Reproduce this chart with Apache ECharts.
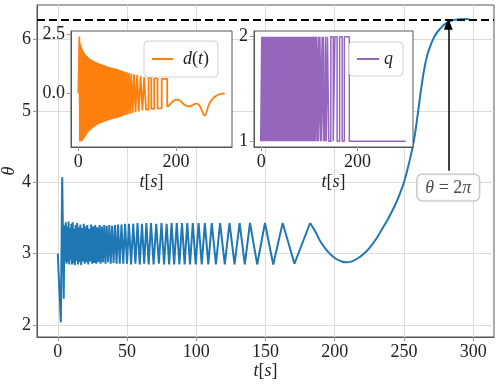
<!DOCTYPE html>
<html>
<head>
<meta charset="utf-8">
<script src="https://cdn.jsdelivr.net/npm/echarts@6/dist/echarts.min.js"></script>
<style>
  html, body { margin: 0; padding: 0; background: #fff; }
  #chart { width: 498px; height: 386px; }
</style>
</head>
<body>
<div id="chart"></div>
<script>
// θ(t) extremum times (also the switching times of d(t) and q in the dense part)
const tExt = [
  0, 2.2, 3.2, 4.3, 4.8, 5.3, 5.8, 6.3, 6.8, 7.3,
  7.8, 8.3, 8.8, 9.3, 9.8, 10.3, 10.8, 11.3, 11.8, 12.35,
  12.9, 13.45, 14.0, 14.55, 15.1, 15.7, 16.3, 16.9, 17.5, 18.1,
  18.75, 19.4, 20.05, 20.7, 21.35, 22.0, 22.7, 23.4, 24.1, 24.8,
  25.55, 26.3, 27.05, 27.8, 28.6, 29.4, 30.2, 31.0, 31.85, 32.7,
  33.55, 34.45, 35.35, 36.3, 37.25, 38.25, 39.25, 40.3, 41.35, 42.45,
  43.55, 44.75, 46.0, 47.3, 48.6, 50.0, 51.4, 52.95, 54.5, 56.05,
  57.6, 59.2, 60.8, 62.4, 64.0, 65.65, 67.3, 69.2, 71.1, 73.0,
  74.9, 76.75, 78.6, 80.4, 82.2, 84.05, 85.9, 87.8, 89.7, 91.6,
  93.5, 95.5, 97.5, 99.6, 101.7, 103.95, 106.2, 108.7, 111.2, 114.2,
  117.2, 120.6, 124.0, 127.65, 131.3, 135.05, 138.8, 144.0, 149.6, 155.6,
  162.4, 170.9, 182.2
];
// θ at those times
const thetaExt = [
  3.00, 2.04, 4.07, 2.37, 3.40, 2.90, 3.44, 2.86, 3.38, 2.88,
  3.45, 2.85, 3.36, 2.91, 3.42, 2.85, 3.44, 2.87, 3.35, 2.84,
  3.40, 2.90, 3.43, 2.85, 3.37, 2.88, 3.41, 2.84, 3.36, 2.89,
  3.42, 2.86, 3.38, 2.88, 3.40, 2.85, 3.35, 2.89, 3.41, 2.86,
  3.38, 2.87, 3.40, 2.86, 3.37, 2.88, 3.40, 2.86, 3.38, 2.88,
  3.40, 2.86, 3.39, 2.88, 3.40, 2.86, 3.39, 2.87, 3.40, 2.86,
  3.41, 2.86, 3.41, 2.86, 3.42, 2.86, 3.42, 2.85, 3.42, 2.86,
  3.43, 2.85, 3.42, 2.86, 3.43, 2.85, 3.43, 2.85, 3.42, 2.86,
  3.43, 2.85, 3.42, 2.85, 3.43, 2.85, 3.43, 2.85, 3.43, 2.85,
  3.43, 2.85, 3.43, 2.85, 3.43, 2.85, 3.43, 2.85, 3.43, 2.85,
  3.43, 2.85, 3.43, 2.85, 3.43, 2.85, 3.43, 2.85, 3.43, 2.85,
  3.43, 2.86, 3.43
];
// slow part of θ after the last oscillation
const thetaTail = [
  [182.2, 3.43], [186, 3.31], [190, 3.16], [195, 3.03], [200, 2.94], [204, 2.90],
  [208, 2.88], [212, 2.89], [217, 2.94], [221, 3.00], [225, 3.08], [230, 3.21],
  [234, 3.34], [238, 3.47], [241.3, 3.59], [244.5, 3.72], [247.4, 3.86], [250, 4.00],
  [252.5, 4.18], [255, 4.38], [257.5, 4.62], [260, 4.96], [262, 5.25], [264.5, 5.57],
  [267, 5.79], [269.5, 5.93], [272, 6.04], [275.3, 6.13], [280, 6.22], [285, 6.265],
  [290, 6.28], [297, 6.283]
];
// d(t) level held from tExt[i] until tExt[i+1]
const dLevel = [
  0, 2.41, -2.03, 2.10, -2.03, 1.98, -2.02, 1.93, -2.01, 1.89,
  -1.99, 1.84, -1.96, 1.79, -1.93, 1.75, -1.90, 1.72, -1.87, 1.69,
  -1.83, 1.66, -1.79, 1.63, -1.75, 1.61, -1.72, 1.58, -1.68, 1.56,
  -1.65, 1.53, -1.62, 1.51, -1.59, 1.49, -1.56, 1.47, -1.53, 1.45,
  -1.51, 1.43, -1.48, 1.41, -1.46, 1.39, -1.43, 1.37, -1.41, 1.35,
  -1.38, 1.34, -1.36, 1.32, -1.34, 1.30, -1.31, 1.29, -1.29, 1.27,
  -1.27, 1.25, -1.25, 1.23, -1.23, 1.21, -1.21, 1.19, -1.18, 1.17,
  -1.16, 1.15, -1.14, 1.13, -1.12, 1.11, -1.10, 1.09, -1.08, 1.07,
  -1.06, 1.05, -1.04, 1.03, -1.01, 1.00, -0.99, 0.98, -0.96, 0.95,
  -0.93, 0.92, -0.91, 0.90, -0.88, 0.87, -0.85, 0.84, -0.82, 0.81,
  -0.79, 0.78, -0.76, 0.74, -0.72, 0.70, -0.68, 0.67, -0.65, 0.64,
  -0.63, 0.62, -0.57
];
const dTail = [
  [182.2, -0.57], [186, -0.50], [190, -0.41], [196, -0.30], [203, -0.26], [210, -0.33],
  [218, -0.48], [226, -0.55], [233, -0.50], [238, -0.45], [243, -0.43], [248, -0.50],
  [253, -0.70], [256.5, -0.88], [259.5, -0.93], [262.5, -0.80], [266, -0.56], [271, -0.34],
  [276, -0.21], [282, -0.11], [288, -0.04], [295, -0.01], [300, 0]
];
// q level held from tExt[i] (dense part, up to t = 131.3), then the wide pulses
const qEarly = [
  1, 2, 1, 2, 1, 2, 1, 2, 1, 2,  1, 2, 1, 2, 1, 2, 1, 2, 1, 2,
  1, 2, 1, 2, 1, 2, 1, 2, 1, 2,  1, 2, 1, 2, 1, 2, 1, 2, 1, 2,
  1, 2, 1, 2, 1, 2, 1, 2, 1, 2,  1, 2, 1, 2, 1, 2, 1, 2, 1, 2,
  1, 2, 1, 2, 1, 2, 1, 2, 1, 2,  1, 2, 1, 2, 1, 2, 1, 2, 1, 2,
  1, 2, 1, 2, 1, 2, 1, 2, 1, 2,  1, 2, 1, 2, 1, 2, 1, 2, 1, 2,
  1, 2, 1, 2
];
const qLateT = [131.3, 133.5, 135.2, 137.5, 140.3, 144.5, 149.5, 153, 157.5, 162.7, 168, 172.5, 182.8, 300];
const qLateV = [1, 2, 1, 2, 1, 2, 1, 2, 1, 2, 1, 2, 1, 1];

const xTicks = [0, 50, 100, 150, 200, 250, 300];
const yTicks = [2, 3, 4, 5, 6];
const insetXTicks = [0, 200];
const dTicks = [0, 2.5];
const qTicks = [1, 2];
const target = 2 * Math.PI;
const arrowT = 282;

const thetaZig = tExt.map((t, i) => [t, thetaExt[i]]);
const dStep = tExt.map((t, i) => [t, dLevel[i]]);
const qDense = tExt.slice(0, qEarly.length).map((t, i) => [t, qEarly[i]]).concat([[qLateT[0], qLateV[0]]]);
const qLate = qLateT.map((t, i) => [t, qLateV[i]]);

const FONT = 'Liberation Serif';
const INK = '#222';
const txt = { fontFamily: FONT, fontSize: 18, color: INK };
const rich = { i: { fontFamily: FONT, fontStyle: 'italic', fontSize: 18, color: INK } };
const FRAME = '#555';

function xAxisCfg(grid, ticks, z, nameGap) {
  return {
    type: 'value', gridIndex: grid, min: -15, max: 315, z: z,
    axisLine: { show: true, onZero: false, lineStyle: { color: FRAME, width: 1 } },
    axisTick: { show: true, customValues: ticks, length: 4, lineStyle: { color: '#999' } },
    axisLabel: { customValues: ticks, margin: 6, ...txt },
    splitLine: { show: grid === 0, lineStyle: { color: '#dcdcdc', width: 1 } },
    name: '{i|t}[{i|s}]', nameLocation: 'middle', nameGap: nameGap, nameMoveOverlap: false,
    nameTextStyle: { ...txt, rich: rich }
  };
}
function yAxisCfg(grid, min, max, ticks, z, fmt) {
  return {
    type: 'value', gridIndex: grid, min: min, max: max, z: z,
    axisLine: { show: true, onZero: false, lineStyle: { color: FRAME, width: 1 } },
    axisTick: { show: true, customValues: ticks, length: 4, lineStyle: { color: '#999' } },
    axisLabel: { customValues: ticks, margin: 6, ...txt, formatter: fmt },
    splitLine: { show: grid === 0, lineStyle: { color: '#dcdcdc', width: 1 } }
  };
}

const chart = echarts.init(document.getElementById('chart'), null, { renderer: 'canvas' });

const BLUE = '#1f77b4', ORANGE = '#ff7f0e', PURPLE = '#9467bd';

const option = {
  animation: false,
  backgroundColor: '#fff',
  grid: [
    { left: 37, top: 5, right: 4, bottom: 49, show: true, borderColor: FRAME, borderWidth: 1,
      backgroundColor: 'transparent', outerBoundsMode: 'none' },
    { left: 71, top: 31, width: 161, height: 116, show: true, z: 10, borderColor: FRAME, borderWidth: 1,
      backgroundColor: '#fff', outerBoundsMode: 'none' },
    { left: 254, top: 31, width: 159, height: 116, show: true, z: 10, borderColor: FRAME, borderWidth: 1,
      backgroundColor: '#fff', outerBoundsMode: 'none' }
  ],
  xAxis: [
    xAxisCfg(0, xTicks, 0, 25),
    xAxisCfg(1, insetXTicks, 15, 26),
    xAxisCfg(2, insetXTicks, 15, 26)
  ],
  yAxis: [
    Object.assign(yAxisCfg(0, 1.835, 6.48, yTicks, 0, v => String(v)), {
      name: '{i|θ}', nameLocation: 'middle', nameGap: 19, nameRotate: 90, nameMoveOverlap: false,
      nameTextStyle: { ...txt, rich: rich }
    }),
    yAxisCfg(1, -2.26, 2.64, dTicks, 15, v => v.toFixed(1)),
    yAxisCfg(2, 0.945, 2.055, qTicks, 15, v => String(v))
  ],
  legend: [
    { data: ['d(t)'], left: 144, top: 41, z: 30, selectedMode: false, icon: 'rect',
      padding: [9, 9, 9, 8], itemWidth: 21, itemHeight: 2,
      backgroundColor: 'rgba(255,255,255,0.85)', borderColor: '#d0d0d0', borderWidth: 1, borderRadius: 4,
      textStyle: { ...txt, rich: rich, padding: [0, 0, 0, 5] }, formatter: () => '{i|d}({i|t})' },
    { data: ['q'], left: 349, top: 42, z: 30, selectedMode: false, icon: 'rect',
      padding: [8, 10, 8, 8], itemWidth: 22, itemHeight: 2,
      backgroundColor: 'rgba(255,255,255,0.85)', borderColor: '#d0d0d0', borderWidth: 1, borderRadius: 4,
      textStyle: { ...txt, rich: rich }, formatter: () => '{i|q}' }
  ],
  series: [
    { name: 'theta', type: 'line', xAxisIndex: 0, yAxisIndex: 0, data: thetaZig,
      symbol: 'none', lineStyle: { color: BLUE, width: 2 }, z: 2 },
    { name: 'theta', type: 'line', xAxisIndex: 0, yAxisIndex: 0, data: thetaTail, smooth: 0.4,
      symbol: 'none', lineStyle: { color: BLUE, width: 2 }, z: 2 },
    // 2π reference line and arrow
    { name: 'ref', type: 'line', xAxisIndex: 0, yAxisIndex: 0, data: [], z: 3,
      markLine: { silent: true, animation: false, symbol: 'none', label: { show: false },
        lineStyle: { color: '#000', width: 2, type: [8, 4] },
        data: [{ yAxis: target }] } },
    { name: 'arrow', type: 'line', xAxisIndex: 0, yAxisIndex: 0, data: [], z: 3,
      markLine: { silent: true, animation: false, symbol: ['none', 'triangle'], symbolSize: [9, 11],
        label: { show: false }, lineStyle: { color: '#000', width: 1.5, type: 'solid' },
        data: [[{ coord: [arrowT, 4.16] }, { coord: [arrowT, 6.21] }]] } },
    { name: 'note', type: 'scatter', xAxisIndex: 0, yAxisIndex: 0, data: [[arrowT, 3.926]],
      symbolSize: 1, itemStyle: { color: 'rgba(0,0,0,0)' }, z: 5, silent: true,
      label: { show: true, position: 'inside', ...txt, rich: rich,
        formatter: '{i|θ} = 2{i|π}', backgroundColor: '#fff', borderColor: '#aaa', borderWidth: 1,
        borderRadius: 5, padding: [5, 8, 3, 8] } },
    // inset 1: d(t)
    { name: 'd(t)', type: 'line', xAxisIndex: 1, yAxisIndex: 1, data: dStep, step: 'end',
      symbol: 'none', lineStyle: { color: ORANGE, width: 1.8 }, itemStyle: { color: ORANGE }, z: 20 },
    { name: 'd(t)', type: 'line', xAxisIndex: 1, yAxisIndex: 1, data: dTail, smooth: 0.4,
      symbol: 'none', lineStyle: { color: ORANGE, width: 1.8 }, itemStyle: { color: ORANGE }, z: 20 },
    // inset 2: q
    { name: 'q', type: 'line', xAxisIndex: 2, yAxisIndex: 2, data: qDense, step: 'end',
      symbol: 'none', lineStyle: { color: PURPLE, width: 2.6 }, itemStyle: { color: PURPLE }, z: 20 },
    { name: 'q', type: 'line', xAxisIndex: 2, yAxisIndex: 2, data: qLate, step: 'end',
      symbol: 'none', lineStyle: { color: PURPLE, width: 1.5 }, itemStyle: { color: PURPLE }, z: 20 }
  ]
};

chart.setOption(option);
</script>
</body>
</html>
